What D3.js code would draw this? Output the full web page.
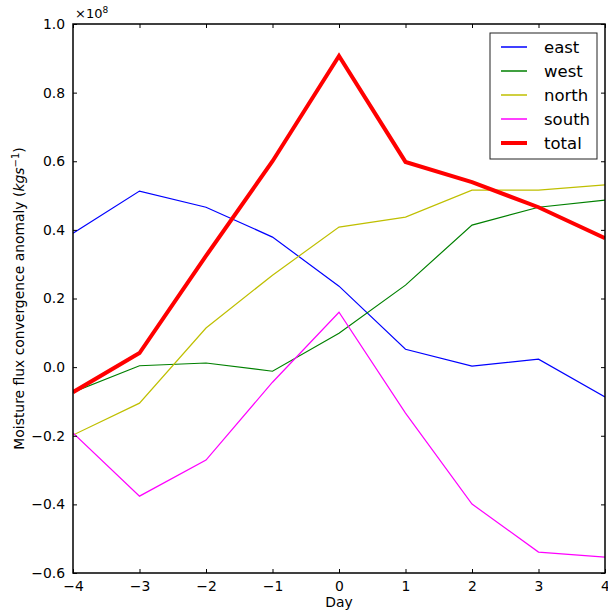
<!DOCTYPE html>
<html>
<head>
<meta charset="utf-8">
<script src="https://cdn.jsdelivr.net/npm/d3@7"></script>
<style>
  body { margin: 0; background: #fff; }
  svg text { font-family: "DejaVu Sans", sans-serif; }
</style>
</head>
<body>
<div id="chart"></div>
<script>
// days on the x axis
const days = [-4, -3, -2, -1, 0, 1, 2, 3, 4];

// values in units of 1e8 kg/s
const east  = [0.390, 0.513, 0.466, 0.379, 0.236, 0.052, 0.003, 0.023, -0.087];
const west  = [-0.073, 0.004, 0.012, -0.012, 0.099, 0.239, 0.414, 0.466, 0.487];
const north = [-0.198, -0.105, 0.114, 0.268, 0.408, 0.437, 0.516, 0.516, 0.531];
const south = [-0.192, -0.376, -0.271, -0.044, 0.160, -0.134, -0.399, -0.539, -0.554];
const total = [-0.073, 0.041, 0.324, 0.600, 0.907, 0.598, 0.539, 0.466, 0.376];

const xTicks = [-4, -3, -2, -1, 0, 1, 2, 3, 4];
const yTicks = [-0.6, -0.4, -0.2, 0.0, 0.2, 0.4, 0.6, 0.8, 1.0];

const series = [
  { name: 'east',  values: east,  color: '#0000ff', width: 1.2 },
  { name: 'west',  values: west,  color: '#008000', width: 1.2 },
  { name: 'north', values: north, color: '#bfbf00', width: 1.2 },
  { name: 'south', values: south, color: '#ff00ff', width: 1.2 },
  { name: 'total', values: total, color: '#ff0000', width: 4 }
];

const width = 608, height = 613;
const margin = { top: 24, right: 3, bottom: 40, left: 73 };
const w = width - margin.left - margin.right;
const h = height - margin.top - margin.bottom;
const fs = '13.9px';

const svg = d3.select('#chart').append('svg')
  .attr('width', width)
  .attr('height', height);

const g = svg.append('g')
  .attr('transform', `translate(${margin.left},${margin.top})`);

const x = d3.scaleLinear().domain([-4, 4]).range([0, w]);
const y = d3.scaleLinear().domain([-0.6, 1.0]).range([h, 0]);

const fmtY = d => (d < 0 ? '\u2212' : '') + Math.abs(d).toFixed(1);
const fmtX = d => (d < 0 ? '\u2212' : '') + Math.abs(d);

// clip lines to plot area
svg.append('defs').append('clipPath').attr('id', 'clip')
  .append('rect').attr('width', w).attr('height', h);

const line = d3.line()
  .x((d, i) => x(days[i]))
  .y(d => y(d));

const lines = g.append('g').attr('clip-path', 'url(#clip)');
series.forEach(s => {
  lines.append('path')
    .datum(s.values)
    .attr('fill', 'none')
    .attr('stroke', s.color)
    .attr('stroke-width', s.width)
    .attr('stroke-linejoin', 'miter')
    .attr('d', line);
});

// axes: ticks pointing inward, mirrored on top/right
const styleAxis = (sel) => {
  sel.select('.domain').remove();
  sel.selectAll('.tick line').attr('stroke', '#000');
  sel.selectAll('.tick text').attr('fill', '#000').style('font-size', fs);
};

g.append('g')
  .attr('transform', `translate(0,${h})`)
  .call(d3.axisBottom(x).tickValues(xTicks).tickFormat(fmtX).tickSizeInner(-4).tickSizeOuter(0).tickPadding(8))
  .call(styleAxis);

g.append('g')
  .call(d3.axisTop(x).tickValues(xTicks).tickFormat('').tickSizeInner(-4).tickSizeOuter(0))
  .call(styleAxis);

g.append('g')
  .call(d3.axisLeft(y).tickValues(yTicks).tickFormat(fmtY).tickSizeInner(-4).tickSizeOuter(0).tickPadding(8))
  .call(styleAxis);

g.append('g')
  .attr('transform', `translate(${w},0)`)
  .call(d3.axisRight(y).tickValues(yTicks).tickFormat('').tickSizeInner(-4).tickSizeOuter(0))
  .call(styleAxis);

// frame
g.append('rect')
  .attr('width', w).attr('height', h)
  .attr('fill', 'none').attr('stroke', '#000').attr('stroke-width', 1.5);

// offset text
const off = g.append('text')
  .attr('x', 2).attr('y', -6)
  .style('font-size', '13px');
off.append('tspan').text('\u00d710');
off.append('tspan').attr('dy', -5).style('font-size', '9px').text('8');

// labels
svg.append('text')
  .attr('x', margin.left + w / 2).attr('y', height - 6)
  .attr('text-anchor', 'middle')
  .style('font-size', fs)
  .text('Day');

const yl = svg.append('text')
  .attr('transform', `translate(24,${margin.top + h / 2}) rotate(-90)`)
  .attr('text-anchor', 'middle')
  .style('font-size', fs);
yl.append('tspan').text('Moisture flux convergence anomaly (');
yl.append('tspan').style('font-style', 'italic').text('kgs');
yl.append('tspan').attr('dy', -5).style('font-size', '10px').text('\u22121');
yl.append('tspan').attr('dy', 5).text(')');

// legend
const lg = svg.append('g').attr('transform', 'translate(490,33)');
lg.append('rect')
  .attr('width', 107).attr('height', 126)
  .attr('fill', '#fff').attr('stroke', '#222').attr('stroke-width', 1);
series.forEach((s, i) => {
  const yy = 14 + i * 24;
  lg.append('line')
    .attr('x1', 11).attr('x2', 37).attr('y1', yy).attr('y2', yy)
    .attr('stroke', s.color).attr('stroke-width', s.width === 4 ? 4 : 1.5);
  lg.append('text')
    .attr('x', 54).attr('y', yy + 6)
    .style('font-size', '16.5px')
    .text(s.name);
});
</script>
</body>
</html>
